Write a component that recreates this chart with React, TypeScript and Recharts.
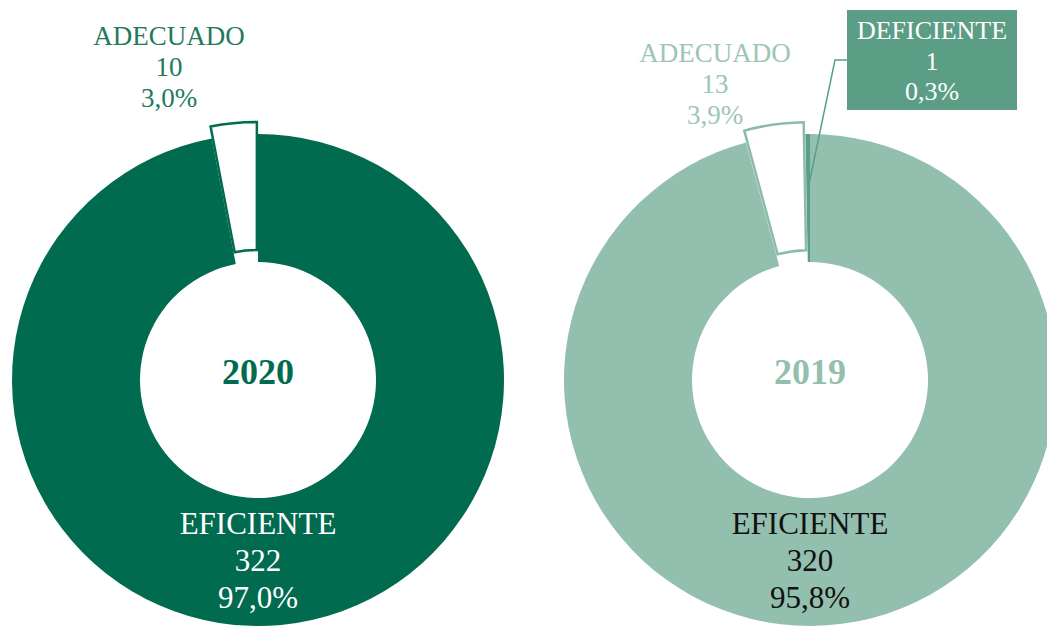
import { PieChart, Pie, Cell } from 'recharts';

const FONT = '"Liberation Serif", "Times New Roman", serif';

const categories2020 = ['EFICIENTE', 'ADECUADO'];
const values2020 = [322, 10];
const categories2019 = ['EFICIENTE', 'ADECUADO', 'DEFICIENTE'];
const values2019 = [320, 13, 1];

const DARK = '#006b4f';
const LIGHT = '#93bfae';
const MID = '#5b9e85';

const toData = (cats: string[], vals: number[]) => cats.map((name, i) => ({ name, value: vals[i] }));
const data2020 = toData(categories2020, values2020);
const data2019 = toData(categories2019, values2019);

const pct = (p: number) => (p * 100).toFixed(1).replace('.', ',') + '%';

// shift of an exploded slice along its mid angle (pie starts at 12 o'clock, clockwise)
const explode = (vals: number[], idx: number, dist: number) => {
  const total = vals.reduce((a, b) => a + b, 0);
  const before = vals.slice(0, idx).reduce((a, b) => a + b, 0);
  const mid = ((90 - (360 * (before + vals[idx] / 2)) / total) * Math.PI) / 180;
  return { dx: dist * Math.cos(mid), dy: -dist * Math.sin(mid) };
};

const R_IN = 118;
const R_OUT = 246;
const EXPLODE = 12;

const LEFT = { cx: 258, cy: 380 };
const RIGHT = { cx: 810, cy: 380 };

const off2020 = explode(values2020, 1, EXPLODE);
const off2019 = explode(values2019, 1, EXPLODE);

type LabelCfg = {
  year: string;
  yearColor: string;
  efColor: string;
  adColor: string;
  adDx: number;
  adBase: number;
};

const makeLabel = (cfg: LabelCfg) => (props: any) => {
  const { cx, cy, value, percent, midAngle, innerRadius, outerRadius } = props;
  const name = props.name ?? props.payload?.name;
  const lines = [name, String(value), pct(percent)];
  if (name === 'EFICIENTE') {
    return (
      <g>
        <text x={cx} y={cy - 8} textAnchor="middle" dominantBaseline="central" fontSize={36}
          fontWeight="bold" fill={cfg.yearColor} fontFamily={FONT}>
          {cfg.year}
        </text>
        <text x={cx} y={cy + 154} textAnchor="middle" fontSize={31} fill={cfg.efColor} fontFamily={FONT}>
          {lines.map((l, i) => (
            <tspan key={i} x={cx} dy={i === 0 ? 0 : 37}>{l}</tspan>
          ))}
        </text>
      </g>
    );
  }
  if (name === 'ADECUADO') {
    return (
      <text x={cx + cfg.adDx} y={cy + cfg.adBase} textAnchor="middle" fontSize={27} fill={cfg.adColor} fontFamily={FONT}>
        {lines.map((l, i) => (
          <tspan key={i} x={cx + cfg.adDx} dy={i === 0 ? 0 : 31}>{l}</tspan>
        ))}
      </text>
    );
  }
  // DEFICIENTE: boxed label with leader line
  const rad = (midAngle * Math.PI) / 180;
  const r0 = (innerRadius + outerRadius) / 2 + 10;
  const sx = cx + r0 * Math.cos(rad);
  const sy = cy - r0 * Math.sin(rad);
  const bx = cx + 37;
  const by = cy - 370;
  return (
    <g>
      <polyline points={`${sx},${sy} ${cx + 25},${cy - 320} ${bx},${cy - 320}`} fill="none" stroke={MID} strokeWidth={1.5} />
      <rect x={bx} y={by} width={170} height={100} fill={MID} />
      <text x={bx + 85} y={cy - 341} textAnchor="middle" fontSize={26} fill="#ffffff" fontFamily={FONT}>
        {lines.map((l, i) => (
          <tspan key={i} x={bx + 85} dy={i === 0 ? 0 : 30.5}>{l}</tspan>
        ))}
      </text>
    </g>
  );
};

export default function App() {
  return (
    <div style={{ position: 'absolute', left: 0, top: 0, background: '#ffffff' }}>
      <PieChart width={1047} height={627} margin={{ top: 0, right: 0, bottom: 0, left: 0 }}>
        {/* 2020 */}
        <Pie data={data2020} dataKey="value" nameKey="name" cx={LEFT.cx} cy={LEFT.cy}
          innerRadius={R_IN} outerRadius={R_OUT} startAngle={90} endAngle={-270}
          stroke="none" isAnimationActive={false} labelLine={false}
          label={makeLabel({ year: '2020', yearColor: DARK, efColor: '#ffffff', adColor: '#1f7a5c', adDx: -89, adBase: -335 })}>
          {data2020.map((d, i) => (
            <Cell key={i} fill={d.name === 'ADECUADO' ? 'none' : DARK} />
          ))}
        </Pie>
        <Pie data={data2020} dataKey="value" nameKey="name" cx={LEFT.cx + off2020.dx} cy={LEFT.cy + off2020.dy}
          innerRadius={R_IN} outerRadius={R_OUT} startAngle={90} endAngle={-270}
          isAnimationActive={false} label={false} labelLine={false}>
          {data2020.map((d, i) => (
            <Cell key={i} fill={d.name === 'ADECUADO' ? '#ffffff' : 'none'}
              stroke={d.name === 'ADECUADO' ? DARK : 'none'} strokeWidth={2.5} />
          ))}
        </Pie>

        {/* 2019 */}
        <Pie data={data2019} dataKey="value" nameKey="name" cx={RIGHT.cx} cy={RIGHT.cy}
          innerRadius={R_IN} outerRadius={R_OUT} startAngle={90} endAngle={-270}
          stroke="none" isAnimationActive={false} labelLine={false}
          label={makeLabel({ year: '2019', yearColor: LIGHT, efColor: '#111111', adColor: '#9cc6b6', adDx: -95, adBase: -318 })}>
          {data2019.map((d, i) => (
            <Cell key={i} fill={d.name === 'ADECUADO' ? 'none' : d.name === 'DEFICIENTE' ? MID : LIGHT} />
          ))}
        </Pie>
        <Pie data={data2019} dataKey="value" nameKey="name" cx={RIGHT.cx + off2019.dx} cy={RIGHT.cy + off2019.dy}
          innerRadius={R_IN} outerRadius={R_OUT} startAngle={90} endAngle={-270}
          isAnimationActive={false} label={false} labelLine={false}>
          {data2019.map((d, i) => (
            <Cell key={i} fill={d.name === 'ADECUADO' ? '#ffffff' : 'none'}
              stroke={d.name === 'ADECUADO' ? '#8dbbaa' : 'none'} strokeWidth={2.5} />
          ))}
        </Pie>
      </PieChart>
    </div>
  );
}
